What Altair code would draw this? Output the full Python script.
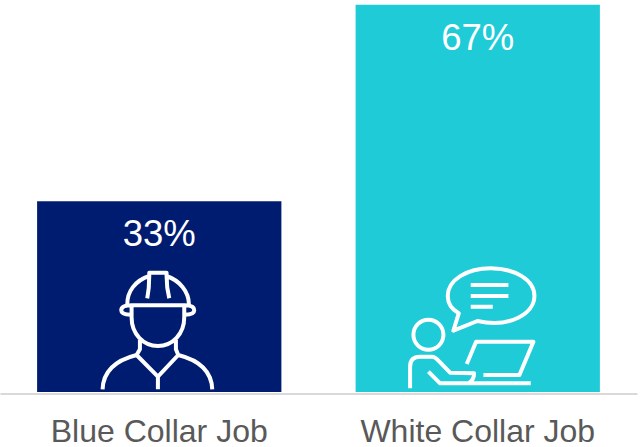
import re
import altair as alt
import pandas as pd

categories = ["Blue Collar Job", "White Collar Job"]
shares = [33, 67]
bar_colors = ["#001C71", "#1ECBD7"]
share_labels = ["33%", "67%"]

# Outline icons, drawn on a 3x grid; the offset moves the grid origin to the foot of each bar.
WORKER = (
    "M112 133 C112 95 135 62 178 48 L178 38 L230 38 L230 48 C270 62 297 95 297 133 "
    "M178 48 C178 70 176 95 172 115 M230 48 C230 70 233 95 238 115 "
    "M122 164 C105 164 94 160 94 151 C94 142 105 136 125 136 L285 136 "
    "C303 136 313 142 313 151 C313 160 303 164 285 164 "
    "M125 140 L125 172 C125 222 160 258 204 258 C248 258 283 222 283 172 L283 140 "
    "M150 240 L150 268 L140 285 C80 300 40 330 38 388 "
    "M258 240 L258 268 L265 285 C325 300 365 330 367 388 "
    "M140 285 L204 350 L265 285 M204 345 L204 388"
)
TEACHER = (
    "M232 183 C330 205 403 160 403 108 C403 60 345 25 272 25 C200 25 143 60 143 108 "
    "C143 130 155 148 176 160 L160 212 Z "
    "M212 75 L325 75 M212 108 L325 108 M212 140 L278 140 "
    "M130 224 C130 249 110 269 85 269 C60 269 40 249 40 224 C40 199 60 179 85 179 C110 179 130 199 130 224 Z "
    "M30 385 L30 320 C30 300 40 290 60 290 L95 290 C105 290 110 295 118 305 L150 338 L222 340 "
    "C222 355 215 365 205 370 M85 335 L120 370 L392 370 "
    "M200 312 L228 245 L400 245 L358 345 L250 345"
)


def shift(path, dx, dy):
    return re.sub(
        r"(-?\d+) (-?\d+)",
        lambda m: f"{int(m.group(1)) - dx} {int(m.group(2)) - dy}",
        path,
    )


icons = [shift(WORKER, 208, 396), shift(TEACHER, 233, 396)]

table = pd.DataFrame(
    {
        "category": categories,
        "share": shares,
        "label": share_labels,
        "color": bar_colors,
        "icon": icons,
        "floor": [0, 0],
    }
)

x = alt.X(
    "category:N",
    sort=categories,
    title=None,
    scale=alt.Scale(paddingInner=0.233, paddingOuter=0.1165),
    axis=alt.Axis(
        labelAngle=0,
        labelFont="Liberation Sans",
        labelFontSize=32,
        labelColor="#595959",
        labelPadding=47.5,
        labelBaseline="alphabetic",
        labelLimit=400,
        ticks=False,
        grid=False,
        domainColor="#D9D9D9",
        domainWidth=2,
        offset=1.5,
    ),
)
y_scale = alt.Scale(domain=[0, 67.82], nice=False)

bars = (
    alt.Chart(table)
    .mark_bar()
    .encode(
        x=x,
        y=alt.Y("share:Q", scale=y_scale, axis=None),
        color=alt.Color("color:N", scale=None),
    )
)

labels = (
    alt.Chart(table)
    .mark_text(
        font="Liberation Sans",
        fontSize=36.5,
        color="white",
        baseline="middle",
        dy=34,
    )
    .encode(x=x, y=alt.Y("share:Q", scale=y_scale, axis=None), text="label:N")
)

# A size of 4/9 makes the custom symbol paths render at one third of their grid units.
pictograms = (
    alt.Chart(table)
    .mark_point(
        filled=False,
        stroke="white",
        strokeWidth=4,
        opacity=1,
        size=4 / 9,
        strokeJoin="round",
    )
    .encode(
        x=x,
        y=alt.Y("floor:Q", scale=y_scale, axis=None),
        shape=alt.Shape("icon:N", scale=None),
    )
)

chart = (
    alt.layer(bars, labels, pictograms)
    .properties(
        width=637,
        height=392,
        padding={"left": 0, "top": 0, "right": 4, "bottom": 55},
        autosize=alt.AutoSizeParams(type="none"),
        background="white",
    )
    .configure_view(stroke=None)
)

chart.save("out.html", embed_options={"renderer": "svg", "actions": False})
